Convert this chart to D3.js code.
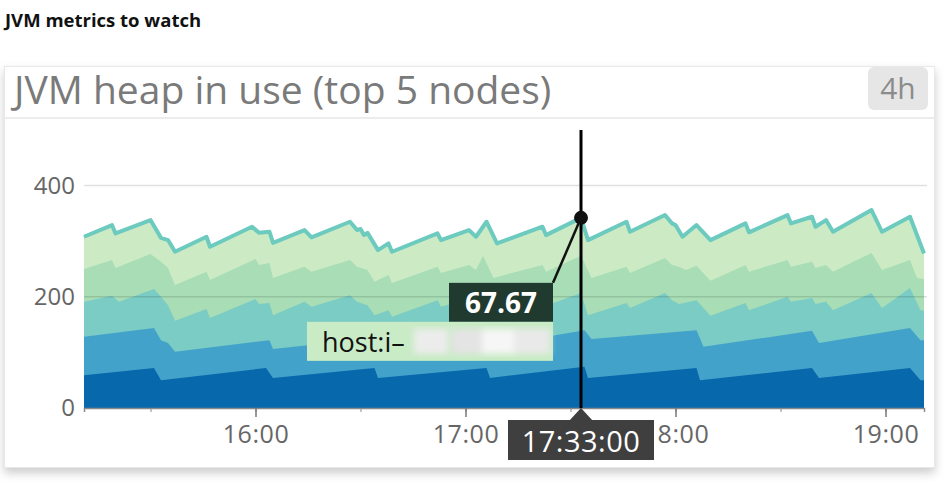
<!DOCTYPE html>
<html>
<head>
<meta charset="utf-8">
<title>JVM heap in use</title>
<script src="https://d3js.org/d3.v7.min.js"></script>
<style>
  body { margin: 0; background: #fff; }
  svg { display: block; font-family: "Open Sans", sans-serif; }
</style>
</head>
<body>
<svg width="944" height="485"></svg>
<script>
// Stacked levels (top edge of each node band, bottom node first)
const level1Times = ["15:11","15:31","15:33","16:03","16:05","16:34","16:35","17:06","17:07","17:34","17:35","18:06","18:07","18:39","18:41","19:07","19:10","19:11"];
const level1Values = [59,72,50,72,54,72,54,72,54,74,54,72,50,72,54,72,50,50];

const level2Times = ["15:11","15:31","15:33","15:35","15:37","16:04","16:05","16:34","16:36","17:06","17:08","17:34","17:36","18:06","18:08","18:39","18:41","19:07","19:10","19:11"];
const level2Values = [128,144,122,117,101,122,106,126,104,130,112,140,124,140,110,139,117,144,122,122];

const level3Times = ["15:11","15:19","15:21","15:31","15:33","15:35","15:37","15:46","15:47","16:00","16:01","16:04","16:05","16:14","16:16","16:27","16:29","16:32","16:34","16:38","16:39","16:52","16:53","17:01","17:03","17:05","17:08","17:22","17:23","17:33","17:35","17:46","17:47","17:57","17:59","18:01","18:06","18:10","18:20","18:21","18:32","18:33","18:39","18:40","18:43","18:45","18:56","18:59","19:07","19:10","19:11"];
const level3Values = [191,202,191,214,200,185,157,178,162,196,187,189,167,191,182,203,191,185,167,176,164,194,182,196,187,209,173,194,184,207,167,189,180,207,194,187,194,166,189,176,200,191,198,187,191,176,207,180,216,176,175];

const level4Times = ["15:11","15:19","15:20","15:30","15:33","15:35","15:37","15:46","15:47","16:00","16:01","16:04","16:05","16:14","16:16","16:27","16:29","16:32","16:34","16:38","16:39","16:52","16:53","17:01","17:03","17:05","17:08","17:22","17:23","17:33","17:36","17:46","17:47","17:57","17:59","18:01","18:03","18:06","18:10","18:20","18:21","18:32","18:33","18:39","18:40","18:43","18:45","18:56","18:59","19:07","19:09","19:11"];
const level4Values = [250,266,252,277,263,252,221,245,230,268,257,261,234,254,245,266,254,248,227,239,225,254,243,257,248,274,234,257,245,274,234,254,243,270,257,254,248,256,229,257,245,266,254,263,252,257,245,279,248,266,234,232];

const level5Times = ["15:11","15:19","15:20","15:30","15:33","15:35","15:37","15:46","15:47","15:59","16:01","16:04","16:05","16:14","16:16","16:27","16:29","16:30","16:31","16:32","16:35","16:38","16:39","16:52","16:53","17:01","17:03","17:06","17:09","17:22","17:23","17:33","17:35","17:46","17:47","17:57","17:59","18:00","18:02","18:06","18:10","18:20","18:21","18:32","18:33","18:39","18:40","18:43","18:45","18:56","18:59","19:07","19:11"];
const level5Values = [308,329,314,338,306,302,281,308,290,326,315,317,297,320,307,335,320,322,311,315,284,296,281,314,302,320,308,335,296,326,311,342,302,335,317,347,332,329,308,329,302,332,316,347,332,344,326,338,317,356,317,344,278];

const nodeColors = ["#0868ac", "#43a2ca", "#7bccc4", "#a8ddb5", "#ccebc5"];
const yTicks = [0, 200, 400];
const timeStart = "15:11", timeEnd = "19:11";

// hovered point
const hoverTime = "17:33";
const hoverValue = "67.67";
const hoverHost = "host:i–";

const parse = d3.timeParse("%H:%M");
const svg = d3.select("svg");

// shadow for the card
const defs = svg.append("defs");
const shadow = defs.append("filter").attr("id", "shadow")
    .attr("x", "-5%").attr("y", "-5%").attr("width", "110%").attr("height", "115%");
shadow.append("feDropShadow").attr("dx", 0).attr("dy", 5)
    .attr("stdDeviation", 5).attr("flood-color", "#000").attr("flood-opacity", 0.2);
defs.append("filter").attr("id", "blur")
    .append("feGaussianBlur").attr("stdDeviation", 3);

// page title
svg.append("text")
    .attr("x", 5).attr("y", 27)
    .attr("font-size", 18.5).attr("font-weight", 700).attr("fill", "#111")
    .text("JVM metrics to watch");

// card
svg.append("rect")
    .attr("x", 4.5).attr("y", 66.5).attr("width", 930).attr("height", 401)
    .attr("fill", "#fff").attr("stroke", "#e8e8e8")
    .attr("filter", "url(#shadow)");

svg.append("text")
    .attr("x", 14).attr("y", 104)
    .attr("font-size", 39).attr("fill", "#7a7a7a")
    .text("JVM heap in use (top 5 nodes)");

svg.append("line")
    .attr("x1", 5).attr("x2", 934).attr("y1", 118).attr("y2", 118)
    .attr("stroke", "#ececec").attr("stroke-width", 2);

svg.append("rect")
    .attr("x", 868).attr("y", 67).attr("width", 60).attr("height", 43).attr("rx", 6)
    .attr("fill", "#e6e6e6");
svg.append("text")
    .attr("x", 898).attr("y", 99).attr("text-anchor", "middle")
    .attr("font-size", 30).attr("fill", "#8c8c8c")
    .text("4h");

// scales
const x = d3.scaleTime().domain([parse(timeStart), parse(timeEnd)]).range([84, 924]);
const y = d3.scaleLinear().domain([0, 500]).range([408, 130]);

const levels = [
  [level1Times, level1Values],
  [level2Times, level2Values],
  [level3Times, level3Values],
  [level4Times, level4Values],
  [level5Times, level5Values]
].map(([ts, vs]) => ts.map((t, i) => ({t: parse(t), v: vs[i]})));

const area = d3.area()
    .x(d => x(d.t))
    .y0(y(0))
    .y1(d => y(d.v));

// draw highest level first so lower bands sit on top
const g = svg.append("g");
for (let k = levels.length - 1; k >= 0; k--) {
  g.append("path")
      .datum(levels[k])
      .attr("d", area)
      .attr("fill", nodeColors[k]);
}

// outline of the top band
g.append("path")
    .datum(levels[4])
    .attr("d", d3.line().x(d => x(d.t)).y(d => y(d.v)))
    .attr("fill", "none")
    .attr("stroke", "#6ccabe")
    .attr("stroke-width", 4)
    .attr("stroke-linejoin", "round");

// grid lines on top of the areas
svg.append("g")
  .selectAll("line")
  .data(yTicks.filter(d => d > 0))
  .join("line")
    .attr("x1", 84).attr("x2", 927)
    .attr("y1", d => y(d)).attr("y2", d => y(d))
    .attr("stroke", "#000").attr("stroke-opacity", 0.12).attr("stroke-width", 1.5);

// y axis
const yAxis = svg.append("g")
    .attr("transform", "translate(84,0)")
    .call(d3.axisLeft(y).tickValues(yTicks).tickSize(0).tickPadding(9));
yAxis.select(".domain").remove();
yAxis.selectAll("text").attr("font-size", 24).attr("fill", "#666")
    .attr("font-family", "Open Sans, sans-serif");

// x axis: hourly labels + half-hour minor ticks
const xMinor = svg.append("g")
    .attr("transform", "translate(0,408)")
    .call(d3.axisBottom(x).ticks(d3.timeMinute.every(30)).tickSize(4).tickFormat(""));
xMinor.select(".domain").attr("stroke", "#8a8a8a").attr("stroke-width", 1.5);
xMinor.selectAll(".tick line").attr("stroke", "#8a8a8a");

const xAxis = svg.append("g")
    .attr("transform", "translate(0,408)")
    .call(d3.axisBottom(x).ticks(d3.timeHour.every(1)).tickSize(9).tickPadding(8)
      .tickFormat(d3.timeFormat("%H:%M")));
xAxis.select(".domain").remove();
xAxis.selectAll(".tick line").attr("stroke", "#777").attr("stroke-width", 1.5);
xAxis.selectAll("text").attr("font-size", 25).attr("fill", "#666")
    .attr("letter-spacing", 0.6)
    .attr("font-family", "Open Sans, sans-serif");

// hover crosshair and tooltips
const hx = x(parse(hoverTime));
const topAtHover = levels[4].find(d => +d.t === +parse(hoverTime)).v;
const hy = y(topAtHover);

svg.append("line")
    .attr("x1", hx).attr("x2", hx).attr("y1", 130).attr("y2", 408)
    .attr("stroke", "#000").attr("stroke-width", 3);

const boxRight = hx - 28, boxTop = hy + 65;
svg.append("line")
    .attr("x1", hx).attr("y1", hy).attr("x2", boxRight).attr("y2", boxTop)
    .attr("stroke", "#111").attr("stroke-width", 2.5);
svg.append("circle")
    .attr("cx", hx).attr("cy", hy).attr("r", 7).attr("fill", "#111");

svg.append("rect")
    .attr("x", boxRight - 104).attr("y", boxTop).attr("width", 104).attr("height", 39)
    .attr("fill", "#213a30");
svg.append("text")
    .attr("x", boxRight - 52).attr("y", boxTop + 30).attr("text-anchor", "middle")
    .attr("font-size", 28).attr("font-weight", 700).attr("fill", "#fff")
    .text(hoverValue);

const hostTop = boxTop + 39;
svg.append("rect")
    .attr("x", boxRight - 246).attr("y", hostTop).attr("width", 246).attr("height", 39)
    .attr("fill", "#c9ebc6");
svg.append("text")
    .attr("x", boxRight - 231).attr("y", hostTop + 30)
    .attr("font-size", 27).attr("fill", "#111")
    .text(hoverHost);
// redacted host id
const redact = svg.append("g").attr("filter", "url(#blur)");
[[414, "#ececec"], [452, "#e4e4e4"], [482, "#f6f6f6"], [514, "#e9e9e9"]].forEach(([rx, c], i) => {
  redact.append("rect")
      .attr("x", rx).attr("y", hostTop + 7)
      .attr("width", i === 3 ? 36 : 34).attr("height", 25)
      .attr("fill", c);
});

// time label under the axis
svg.append("path")
    .attr("d", `M${hx},408 L${hx - 12},421 L${hx + 12},421 Z`)
    .attr("fill", "#3f3f3f");
svg.append("rect")
    .attr("x", hx - 73).attr("y", 420).attr("width", 146).attr("height", 40)
    .attr("fill", "#3f3f3f");
svg.append("text")
    .attr("x", hx).attr("y", 452).attr("text-anchor", "middle")
    .attr("font-size", 29).attr("letter-spacing", 0.5).attr("fill", "#fff")
    .text(hoverTime + ":00");
</script>
</body>
</html>
